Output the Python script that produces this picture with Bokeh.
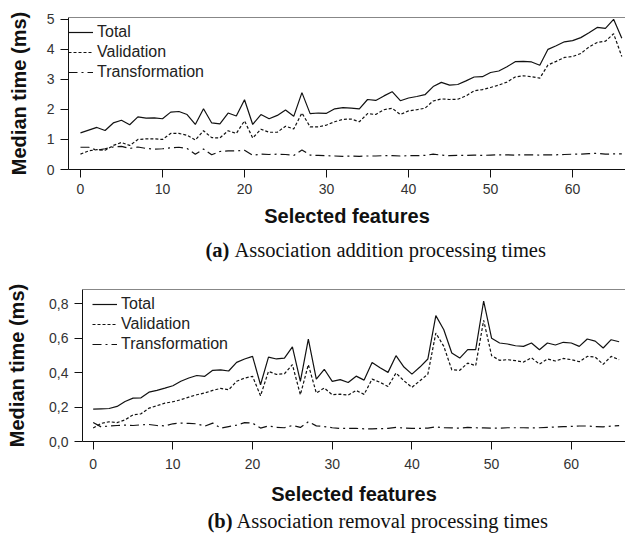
from bokeh.plotting import figure
from bokeh.models import Range1d, FixedTicker, Legend, LegendItem, Span, Label
from bokeh.embed import file_html
from bokeh.resources import INLINE

# ---------------- data ----------------
features = list(range(67))

a_total = [1.22, 1.31, 1.40, 1.30, 1.55, 1.64, 1.49, 1.75, 1.71, 1.72,
           1.69, 1.91, 1.93, 1.83, 1.50, 2.02, 1.55, 1.52, 1.88, 1.78,
           2.32, 1.50, 1.83, 1.69, 1.80, 1.98, 1.77, 2.56, 1.86, 1.88,
           1.87, 2.02, 2.06, 2.04, 2.02, 2.33, 2.30, 2.45, 2.59, 2.29,
           2.38, 2.43, 2.49, 2.76, 2.90, 2.81, 2.83, 2.95, 3.08, 3.09,
           3.23, 3.28, 3.42, 3.59, 3.60, 3.58, 3.47, 4.00, 4.12, 4.25,
           4.29, 4.39, 4.55, 4.73, 4.70, 5.00, 4.37]
a_validation = [0.51, 0.62, 0.66, 0.64, 0.80, 0.90, 0.80, 1.00, 1.02, 1.02,
                1.00, 1.20, 1.20, 1.14, 0.98, 1.29, 1.06, 1.05, 1.29, 1.20,
                1.62, 1.05, 1.34, 1.24, 1.24, 1.44, 1.35, 1.88, 1.42, 1.42,
                1.48, 1.59, 1.67, 1.68, 1.59, 1.86, 1.83, 1.99, 2.04, 1.83,
                1.95, 1.99, 2.04, 2.28, 2.35, 2.33, 2.34, 2.45, 2.62, 2.66,
                2.73, 2.81, 2.91, 3.08, 3.12, 3.09, 3.04, 3.48, 3.60, 3.73,
                3.76, 3.86, 4.08, 4.23, 4.27, 4.52, 3.76]
a_transformation = [0.74, 0.74, 0.64, 0.69, 0.75, 0.77, 0.70, 0.75, 0.70, 0.68,
                    0.69, 0.72, 0.74, 0.70, 0.51, 0.68, 0.49, 0.60, 0.62, 0.62,
                    0.64, 0.47, 0.51, 0.50, 0.51, 0.50, 0.47, 0.65, 0.48, 0.47,
                    0.46, 0.45, 0.44, 0.45, 0.44, 0.45, 0.45, 0.46, 0.46, 0.45,
                    0.46, 0.46, 0.47, 0.51, 0.48, 0.46, 0.47, 0.47, 0.48, 0.47,
                    0.48, 0.49, 0.49, 0.48, 0.49, 0.49, 0.48, 0.49, 0.49, 0.50,
                    0.51, 0.51, 0.53, 0.54, 0.51, 0.52, 0.52]

b_total = [0.188, 0.190, 0.192, 0.204, 0.233, 0.252, 0.254, 0.287, 0.297, 0.310,
           0.324, 0.350, 0.369, 0.384, 0.379, 0.414, 0.417, 0.410, 0.460, 0.480,
           0.495, 0.330, 0.491, 0.480, 0.485, 0.550, 0.350, 0.596, 0.363, 0.420,
           0.350, 0.360, 0.343, 0.380, 0.357, 0.460, 0.429, 0.402, 0.499, 0.433,
           0.392, 0.433, 0.480, 0.732, 0.650, 0.515, 0.485, 0.534, 0.534, 0.817,
           0.600, 0.573, 0.567, 0.557, 0.553, 0.573, 0.534, 0.573, 0.561, 0.577,
           0.573, 0.553, 0.596, 0.584, 0.544, 0.592, 0.580]
b_validation = [0.078, 0.105, 0.115, 0.110, 0.126, 0.155, 0.161, 0.194, 0.208, 0.223,
                0.231, 0.243, 0.258, 0.272, 0.282, 0.297, 0.309, 0.301, 0.350, 0.369,
                0.379, 0.266, 0.408, 0.390, 0.394, 0.447, 0.272, 0.447, 0.282, 0.311,
                0.272, 0.275, 0.270, 0.297, 0.274, 0.363, 0.344, 0.320, 0.398, 0.353,
                0.315, 0.353, 0.392, 0.631, 0.553, 0.417, 0.414, 0.456, 0.441, 0.705,
                0.499, 0.472, 0.476, 0.470, 0.462, 0.487, 0.450, 0.480, 0.468, 0.483,
                0.476, 0.464, 0.495, 0.491, 0.449, 0.495, 0.476]
b_transformation = [0.110, 0.085, 0.090, 0.093, 0.095, 0.093, 0.097, 0.099, 0.093, 0.091,
                    0.103, 0.107, 0.105, 0.103, 0.089, 0.107, 0.078, 0.087, 0.095, 0.110,
                    0.107, 0.078, 0.091, 0.082, 0.080, 0.093, 0.082, 0.115, 0.091, 0.087,
                    0.080, 0.076, 0.076, 0.076, 0.074, 0.074, 0.075, 0.076, 0.082, 0.078,
                    0.076, 0.076, 0.078, 0.085, 0.080, 0.079, 0.078, 0.082, 0.080, 0.079,
                    0.078, 0.078, 0.080, 0.080, 0.080, 0.079, 0.080, 0.082, 0.084, 0.086,
                    0.088, 0.090, 0.090, 0.087, 0.085, 0.090, 0.092]

x_ticks = [0, 10, 20, 30, 40, 50, 60]
a_y_ticks = [0, 1, 2, 3, 4, 5]
b_y_ticks = [0.0, 0.2, 0.4, 0.6, 0.8]
b_y_tick_labels = ["0,0", "0,2", "0,4", "0,6", "0,8"]
series_names = ["Total", "Validation", "Transformation"]
x_label = "Selected features"
y_label = "Median time (ms)"
caption_a = ("(a)", "Association addition processing times")
caption_b = ("(b)", "Association removal processing times")

SANS = "Liberation Sans"
SERIF = "Liberation Serif"
INK = "#111111"
DASHES = ["solid", "3 2", "9 4 2 4"]


def make_chart(h, left, top, bottom, xr, yr, yticks, series, ylab_standoff,
               xlab_standoffs, legend_loc):
    p = figure(width=625, height=h, output_backend="svg", toolbar_location=None,
               x_range=Range1d(*xr), y_range=Range1d(*yr),
               min_border_left=left, min_border_right=0,
               min_border_top=top, min_border_bottom=bottom)
    p.outline_line_color = None
    p.grid.visible = False
    p.background_fill_color = "white"
    p.border_fill_color = "white"

    for ax in (p.xaxis[0], p.yaxis[0]):
        ax.axis_line_color = INK
        ax.axis_line_width = 1
        ax.major_tick_line_color = INK
        ax.minor_tick_line_color = None
        ax.major_tick_out = 8
        ax.major_tick_in = 0
        ax.major_label_text_font = SANS
        ax.major_label_text_font_size = "14px"
        ax.major_label_text_color = "#333333"
        ax.axis_label_text_font = SANS
        ax.axis_label_text_font_style = "bold"
        ax.axis_label_text_font_size = "20px"
        ax.axis_label_text_color = INK

    p.xaxis[0].ticker = FixedTicker(ticks=x_ticks)
    p.xaxis[0].axis_label = x_label
    p.xaxis[0].major_label_standoff = xlab_standoffs[0]
    p.xaxis[0].axis_label_standoff = xlab_standoffs[1]
    p.yaxis[0].ticker = FixedTicker(ticks=yticks[0])
    if yticks[1] is not None:
        p.yaxis[0].major_label_overrides = {t: s for t, s in zip(yticks[0], yticks[1])}
    p.yaxis[0].axis_label = y_label
    p.yaxis[0].major_label_standoff = 6
    p.yaxis[0].axis_label_standoff = ylab_standoff

    # top frame line
    p.add_layout(Span(location=yr[1], dimension="width", line_color=INK, line_width=1))

    items = []
    for name, ys, dash in zip(series_names, series, DASHES):
        r = p.line(features, ys, line_color=INK, line_width=1.2, line_dash=dash)
        items.append(LegendItem(label=name, renderers=[r]))
    leg = Legend(items=items, location=legend_loc, border_line_color=None,
                 background_fill_alpha=0, margin=0, padding=2, spacing=0,
                 glyph_width=25, glyph_height=20, label_height=20,
                 label_standoff=4, label_text_font=SANS,
                 label_text_font_size="16px", label_text_color="#222222")
    p.add_layout(leg)
    return p


def make_caption(h, caption, x0, cy):
    c = figure(width=625, height=h, output_backend="svg", toolbar_location=None,
               x_range=Range1d(0, 625), y_range=Range1d(0, h),
               min_border=0, min_border_left=0, min_border_right=0,
               min_border_top=0, min_border_bottom=0)
    c.axis.visible = False
    c.grid.visible = False
    c.outline_line_color = None
    c.border_fill_color = "white"
    c.add_layout(Label(x=x0, y=h - cy, x_units="screen", y_units="screen",
                       text=caption[0], text_font=SERIF, text_font_style="bold",
                       text_font_size="20.5px", text_color=INK, text_baseline="middle"))
    c.add_layout(Label(x=x0 + 29, y=h - cy, x_units="screen", y_units="screen",
                       text=caption[1], text_font=SERIF, text_font_style="normal",
                       text_font_size="20.5px", text_color=INK, text_baseline="middle"))
    return c


pa = make_chart(233, 68, 17, 64, (-1.46, 66.45), (0, 5.06), (a_y_ticks, None),
                (a_total, a_validation, a_transformation), 14, (6, 8), (0, 87))
ca = make_caption(35, caption_a, 205, 16)
pb = make_chart(241, 82, 21, 68, (-1.34, 66.8), (0, 0.884), (b_y_ticks, b_y_tick_labels),
                (b_total, b_validation, b_transformation), 18, (9, 11), (10, 87))
cb = make_caption(28, caption_b, 207, 11)

open("out.html", "w").write(file_html([pa, ca, pb, cb], INLINE))
